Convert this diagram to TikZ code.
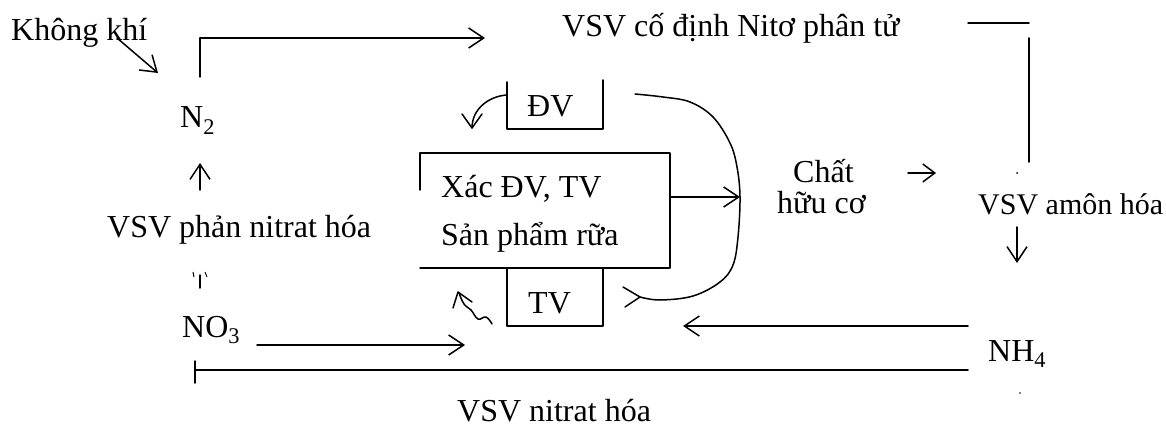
\documentclass[tikz,border=0pt]{standalone}
\usepackage{fontspec}
\setmainfont{Liberation Serif}
\usetikzlibrary{arrows.meta}
\begin{document}
\begin{tikzpicture}[x=1pt,y=-1pt,
  txt/.style={font=\fontsize{32}{38}\selectfont, inner sep=0pt, anchor=base west},
  ln/.style={line width=1.5pt, line cap=round, line join=round},
  arr/.style={ln, -{Straight Barb[length=15pt,width=20pt,line width=1.5pt]}},
  sarr/.style={ln, -{Straight Barb[length=12pt,width=18pt,line width=1.5pt]}}]
\useasboundingbox (0,0) rectangle (1166,430);

% texts
\node[txt] (air) at (11,41) {Không khí};
\node[txt] (n2) at (180,128) {N\textsubscript{2}};
\node[txt] (fix) at (562,37) {VSV cố định Nitơ phân tử};
\node[txt] (denit) at (107,237) {VSV phản nitrat hóa};
\node[txt] (no3) at (182,337) {NO\textsubscript{3}};
\node[txt] (nitr) at (457,421) {VSV nitrat hóa};
\node[txt] (xac) at (441,198) {Xác ĐV, TV};
\node[txt] (sp) at (441,245) {Sản phẩm rữa};
\node[txt] (dv) at (527,117) {ĐV};
\node[txt] (tv) at (528,313) {TV};
\node[txt] (chat) at (793,183) {Chất};
\node[txt] (huu) at (777,214) {hữu cơ};
\node[txt, font=\fontsize{30}{36}\selectfont] (amon) at (978,215) {VSV amôn hóa};
\node[txt] (nh4) at (988,361) {NH\textsubscript{4}};

% coordinates
\coordinate (a1) at (117,38); \coordinate (a2) at (158,73);
\coordinate (f0) at (200,77); \coordinate (f1) at (200,38); \coordinate (f2) at (485,38);
\coordinate (r0) at (968,23); \coordinate (r1) at (1029,23);
\coordinate (r2) at (1029,38); \coordinate (r3) at (1029,162);
\coordinate (c0) at (908,173); \coordinate (c1) at (936,173);
\coordinate (d0) at (1017,227); \coordinate (d1) at (1017,263);
\coordinate (h0) at (968,326); \coordinate (h1) at (683,326);
\coordinate (b0) at (968,370); \coordinate (b1) at (195,370);
\coordinate (o0) at (257,345); \coordinate (o1) at (465,345);
\coordinate (u0) at (200,190); \coordinate (u1) at (200,163);
\coordinate (m0) at (670,197); \coordinate (m1) at (740,197);

% connectors
\draw[arr] (a1) -- (a2);
\draw[arr] (f0) -- (f1) -- (f2);
\draw[ln] (r0) -- (r1);
\draw[ln] (r2) -- (r3);
\fill (1017,173) circle (1pt);
\draw[sarr] (c0) -- (c1);
\draw[arr] (d0) -- (d1);
\draw[arr] (h0) -- (h1);
\draw[ln] (b0) -- (b1);
\draw[ln] (195,361) -- (195,383);
\fill (1020,393) circle (0.8pt);
\draw[arr] (o0) -- (o1);
\draw[arr] (u0) -- (u1);
% odd tick below VSV phan nitrat hoa
\draw[ln] (200,275) -- (200,288);
\draw[line width=1pt] (193,272) -- (194,277);
\draw[line width=1pt] (205,272) -- (207,277);

% central box
\draw[ln] (420,190) -- (420,153) -- (670,153) -- (670,268) -- (420,268);
\draw[arr] (m0) -- (m1);
% DV box
\draw[ln] (507,82) -- (507,129) -- (603,129) -- (603,80);
% TV box
\draw[ln] (507,268) -- (507,326) -- (603,326) -- (603,268);

% big curve
\draw[ln] plot[smooth, tension=0.6] coordinates {(635,94) (663,97) (690,102) (713,117) (730,143) (737,167) (740,197) (738,237) (733,265) (720,282) (693,296) (660,300) (640,297)};
\draw[ln] (623,287) -- (640,297) -- (625,307);

% curly arrow near DV
\draw[ln] (507,95) .. controls (490,96) and (472,108) .. (472,128);
\draw[ln] (462,114) -- (472,128) -- (482,114);

% wavy arrow near TV
\draw[ln] plot[smooth, tension=0.7] coordinates {(492,324) (486,317) (478,319) (471,310) (464,304) (459,293)};
\draw[ln] (453,308) -- (458,292) -- (472,302);
\end{tikzpicture}
\end{document}
